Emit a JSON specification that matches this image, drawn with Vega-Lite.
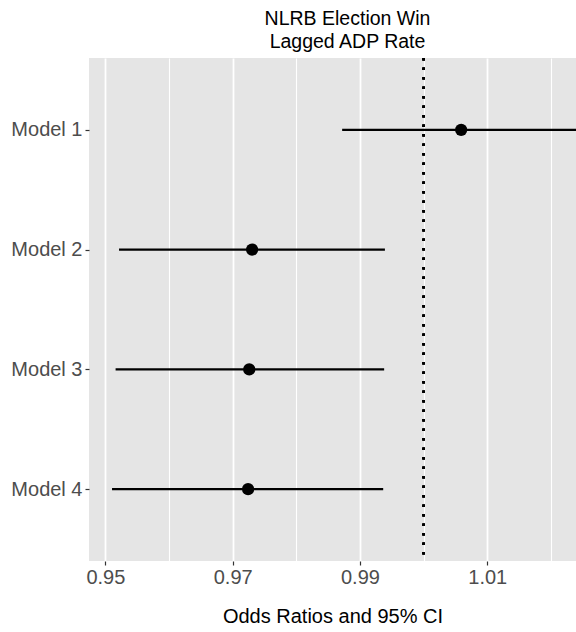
{
  "$schema": "https://vega.github.io/schema/vega-lite/v6.json",
  "autosize": {"type": "none"},
  "padding": {"left": 89, "top": 58, "right": 0, "bottom": 71},
  "width": 487,
  "height": 503,
  "background": "white",
  "config": {
    "font": "Liberation Sans",
    "view": {"fill": "#E5E5E5", "stroke": null}
  },
  "title": {
    "text": ["NLRB Election Win", "Lagged ADP Rate"],
    "fontSize": 19.5,
    "fontWeight": "normal",
    "font": "Liberation Sans",
    "color": "black",
    "lineHeight": 23,
    "anchor": "middle",
    "dx": 15,
    "offset": 4
  },
  "data": {
    "values": [
      {"model": "Model 1", "est": 1.0059, "lo": 0.9872, "hi": 1.03},
      {"model": "Model 2", "est": 0.97305, "lo": 0.95214, "hi": 0.99392},
      {"model": "Model 3", "est": 0.9726, "lo": 0.9516, "hi": 0.9938},
      {"model": "Model 4", "est": 0.97242, "lo": 0.95104, "hi": 0.99365}
    ]
  },
  "encoding": {
    "y": {
      "field": "model",
      "type": "nominal",
      "sort": null,
      "scale": {"type": "point", "padding": 0.6},
      "axis": {
        "title": null,
        "domain": false,
        "grid": false,
        "labelFontSize": 20,
        "labelColor": "#4D4D4D",
        "labelPadding": 3,
        "tickColor": "#333333",
        "tickSize": 4,
        "tickWidth": 1.2
      }
    }
  },
  "layer": [
    {
      "mark": {"type": "rule", "color": "black", "strokeWidth": 2.5, "strokeDash": [2.5, 7], "strokeCap": "butt"},
      "encoding": {
        "x": {"datum": 1.0, "type": "quantitative"},
        "y": null
      }
    },
    {
      "mark": {"type": "rule", "color": "black", "strokeWidth": 2.4, "clip": true},
      "encoding": {
        "x": {
          "field": "lo",
          "type": "quantitative",
          "scale": {"domain": [0.947421, 1.023946], "nice": false, "zero": false},
          "axis": {
            "title": "Odds Ratios and 95% CI",
            "titleFontSize": 20,
            "titleFontWeight": "normal",
            "titleColor": "black",
            "titlePadding": 19,
            "values": [0.95, 0.96, 0.97, 0.98, 0.99, 1.0, 1.01, 1.02],
            "labelExpr": "round(datum.value*100) % 2 == 1 ? format(datum.value, '.2f') : ''",
            "labelFontSize": 20,
            "labelColor": "#4D4D4D",
            "labelPadding": 2,
            "labelFlush": false,
            "labelOverlap": false,
            "domain": false,
            "tickColor": "#333333",
            "tickSize": 4,
            "tickWidth": 1.2,
            "tickOpacity": {"condition": {"test": "round(datum.value*100) % 2 == 1", "value": 1}, "value": 0},
            "grid": true,
            "gridColor": "white",
            "gridOpacity": 1,
            "gridWidth": {"condition": {"test": "round(datum.value*100) % 2 == 1", "value": 1.8}, "value": 1.1}
          }
        },
        "x2": {"field": "hi"}
      }
    },
    {
      "mark": {"type": "point", "filled": true, "color": "black", "opacity": 1, "size": 150, "shape": "circle"},
      "encoding": {
        "x": {"field": "est", "type": "quantitative"}
      }
    }
  ]
}
